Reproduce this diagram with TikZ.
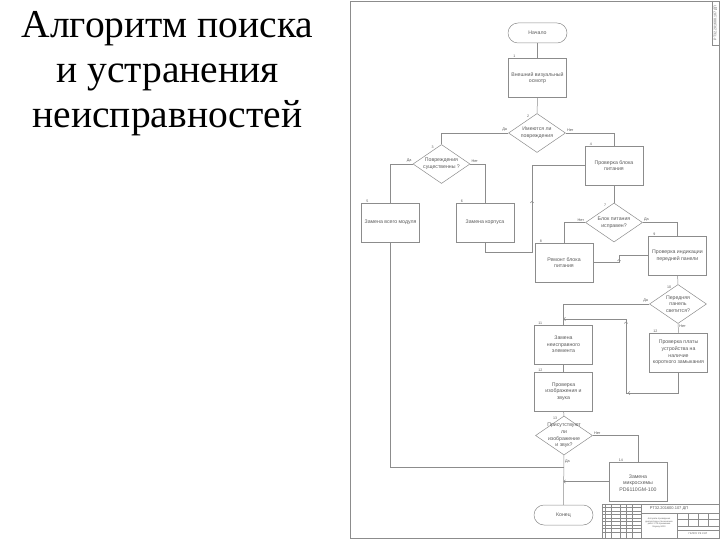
\documentclass[tikz,border=0pt]{standalone}
\usepackage{fontspec}
\setmainfont{Liberation Serif}
\newfontfamily\chartfont{Liberation Sans}
\usetikzlibrary{shapes.geometric,arrows.meta,decorations.markings}
\definecolor{linegray}{RGB}{140,140,140}
\definecolor{txtgray}{RGB}{90,90,90}
\tikzset{
  ln/.style={draw=linegray, line width=0.5pt},
  box/.style={ln, rectangle, minimum width=58pt, minimum height=39pt, inner sep=1pt, align=center, text=txtgray, font=\chartfont\fontsize{5.2}{6.6}\selectfont},
  term/.style={box, rounded corners=10pt, minimum height=20pt, minimum width=59pt},
  dia/.style={ln, diamond, minimum width=57pt, minimum height=39pt, inner sep=0pt},
  dtxt/.style={align=center, inner sep=0pt, text=txtgray, font=\chartfont\fontsize{5.2}{6.6}\selectfont},
  yn/.style={inner sep=1pt, text=txtgray, font=\chartfont\fontsize{3.8}{4.5}\selectfont},
  num/.style={inner sep=0.5pt, text=txtgray, font=\chartfont\fontsize{3.6}{4}\selectfont},
  tiny/.style={inner sep=0pt, text=txtgray, align=center, font=\chartfont\fontsize{2.2}{2.7}\selectfont},
  ttl/.style={inner sep=0pt, anchor=base, font=\fontsize{39.5}{46}\selectfont},
  arr/.style={postaction={decorate,decoration={markings,mark=at position #1 with {\arrow{Straight Barb[length=1.6pt,width=3.4pt]}}}}},
  tip/.style={-{Straight Barb[length=1.6pt,width=3.4pt]}}
}

\begin{document}
\begin{tikzpicture}[x=1pt,y=-1pt]
  \useasboundingbox (0,0) rectangle (720,540);
  \draw (167.5,38) node[ttl] (t1) {Алгоритм поиска};
  \draw (167.5,83) node[ttl] (t2) {и устранения};
  \draw (167.5,128) node[ttl] (t3) {неисправностей};

  \draw[ln] (350,1) rectangle (719,538);
  \draw[ln] (712,1) rectangle (719,45);
  \draw (715.5,23) node[tiny, rotate=90, font=\chartfont\fontsize{3.6}{4}\selectfont] (stamp) {РТ32.201600.107 ДП};

  \draw (537.5,33) node[term] (nach) {Начало};
  \draw (537.5,78) node[box] (osm) {Внешний визуальный\\осмотр};
  \draw (537,133) node[dia] (povr) {};
  \draw (povr) node[dtxt] (povrt) {Имеются ли\\повреждения};
  \draw (441.5,164) node[dia] (sush) {};
  \draw (sush) node[dtxt] (susht) {Повреждения\\существенны ?};
  \draw (614,165.5) node[box] (pit) {Проверка блока\\питания};
  \draw (390.5,222.5) node[box] (modul) {Замена всего модуля};
  \draw (485,222.5) node[box] (korp) {Замена корпуса};
  \draw (614,222.5) node[dia] (ispr) {};
  \draw (ispr) node[dtxt] (isprt) {Блок питания\\исправен?};
  \draw (564,262.5) node[box] (rem) {Ремонт блока\\питания};
  \draw (677.5,255.5) node[box] (ind) {Проверка индикации\\передней панели};
  \draw (678,304) node[dia] (svet) {};
  \draw (svet) node[dtxt] (svett) {Передняя\\панель\\светится?};
  \draw (563.5,344.5) node[box] (elem) {Замена\\неисправного\\элемента};
  \draw (678.5,352.5) node[box] (plata) {Проверка платы\\устройства на\\наличие\\короткого замыкания};
  \draw (563.5,391.5) node[box] (izob) {Проверка\\изображения и\\звука};
  \draw (564,435.5) node[dia] (prisut) {};
  \draw (prisut) node[dtxt] (prisutt) {Присутствуют\\ли\\изображение\\и звук?};
  \draw (638,481.5) node[box] (mikro) {\\Замена\\микросхемы\\PD6110GM-100};
  \draw (563.5,515) node[term] (kon) {Конец};

  \draw ([xshift=6pt]osm.north west) node[num, anchor=south] (n1) {1};
  \draw ([xshift=-9pt,yshift=-3pt]povr.north) node[num] (n2) {2};
  \draw ([xshift=-9pt,yshift=-3pt]sush.north) node[num] (n3) {3};
  \draw ([xshift=6pt]pit.north west) node[num, anchor=south] (n4) {4};
  \draw ([xshift=6pt]modul.north west) node[num, anchor=south] (n5) {5};
  \draw ([xshift=6pt]korp.north west) node[num, anchor=south] (n6) {6};
  \draw ([xshift=-9pt,yshift=-3pt]ispr.north) node[num] (n7) {7};
  \draw ([xshift=6pt]rem.north west) node[num, anchor=south] (n8) {8};
  \draw ([xshift=6pt]ind.north west) node[num, anchor=south] (n9) {9};
  \draw ([xshift=-9pt,yshift=-3pt]svet.north) node[num] (n10) {10};
  \draw ([xshift=6pt]elem.north west) node[num, anchor=south] (n11) {11};
  \draw ([xshift=6pt]plata.north west) node[num, anchor=south] (n12) {12};
  \draw ([xshift=6pt]izob.north west) node[num, anchor=south] (n12b) {12};
  \draw ([xshift=-9pt,yshift=-3pt]prisut.north) node[num] (n13) {13};
  \draw ([xshift=12pt]mikro.north west) node[num, anchor=south] (n14) {14};

  \coordinate (korpc) at (532,252);
  \coordinate (remc) at (619,262.5);
  \coordinate (elemc) at (563.5,319);
  \coordinate (platc) at (626,393);
  \coordinate (modc) at (563.5,467);

  \path[ln] (nach) edge (osm) (osm) edge (povr);
  \draw[ln] (povr.west) node[yn, above left] (da2) {Да} -| (sush.north);
  \draw[ln] (povr.east) node[yn, above right] (net2) {Нет} -| (pit.north);
  \draw[ln] (sush.west) node[yn, above left] (da3) {Да} -| (modul.north);
  \draw[ln] (sush.east) node[yn, above right] (net3) {Нет} -| (korp.north);
  \draw[ln, arr=0.55] (korp.south) |- (korpc) |- (pit.west);
  \path[ln] (pit) edge (ispr);
  \draw[ln] (ispr.west) node[yn, above left] (net7) {Нет} -| (rem.north);
  \draw[ln] (ispr.east) node[yn, above right] (da7) {Да} -| (ind.north);
  \draw[ln, arr=0.47] (rem.east) -- (remc) |- (ind.west);
  \path[ln] (ind) edge (svet);
  \draw[ln] (svet.west) node[yn, above left] (da10) {Да} -| (elem.north);
  \path[ln] (svet) edge node[yn, pos=0, below right] (net10) {Нет} (plata);
  \path[ln] (elem) edge (izob) (izob) edge (prisut);
  \draw[ln, arr=0.34, arr=0.69, tip] (plata.south) |- (platc) |- (elemc);
  \draw[ln] (prisut.east) node[yn, above right] (net13) {Нет} -| (mikro.north);
  \draw[ln, tip] (mikro.west) -- (mikro.west -| kon.north);
  \path[ln] (prisut) edge node[yn, pos=0, below right, yshift=-3pt] (da13) {Да} (kon);
  \draw[ln] (modul.south) |- (modc);

  \draw[ln] (602,504) rectangle (719,538);
  \foreach \xx in {605,611,620,626,632,641}
    \draw[ln, line width=0.3pt] (\xx,504) -- (\xx,538);
  \foreach \yy in {507.5,511,...,535}
    \draw[ln, line width=0.3pt] (602,\yy) -- (641,\yy);
  \draw[ln, line width=0.3pt] (641,513) -- (719,513);
  \draw[ln, line width=0.3pt] (677,513) -- (677,538);
  \draw[ln, line width=0.3pt] (677,519) -- (719,519);
  \draw[ln, line width=0.3pt] (677,526) -- (719,526);
  \draw[ln, line width=0.3pt] (677,530) -- (719,530);
  \foreach \xx in {688,698,708}
    \draw[ln, line width=0.3pt] (\xx,513) -- (\xx,526);
  \draw (669,508.5) node[tiny, font=\chartfont\fontsize{4}{4.5}\selectfont] (oboz) {РТ32.201600.107 ДП};
  \draw (659,523) node[tiny] (naim) {Алгоритм проведения\\диагностики и технических\\работ СТБ приемника\\Skyway 8000};
  \draw (698,534) node[tiny, font=\chartfont\fontsize{2.6}{3}\selectfont] (org) {ГБПОУ РК СЭТ};
\end{tikzpicture}
\end{document}
